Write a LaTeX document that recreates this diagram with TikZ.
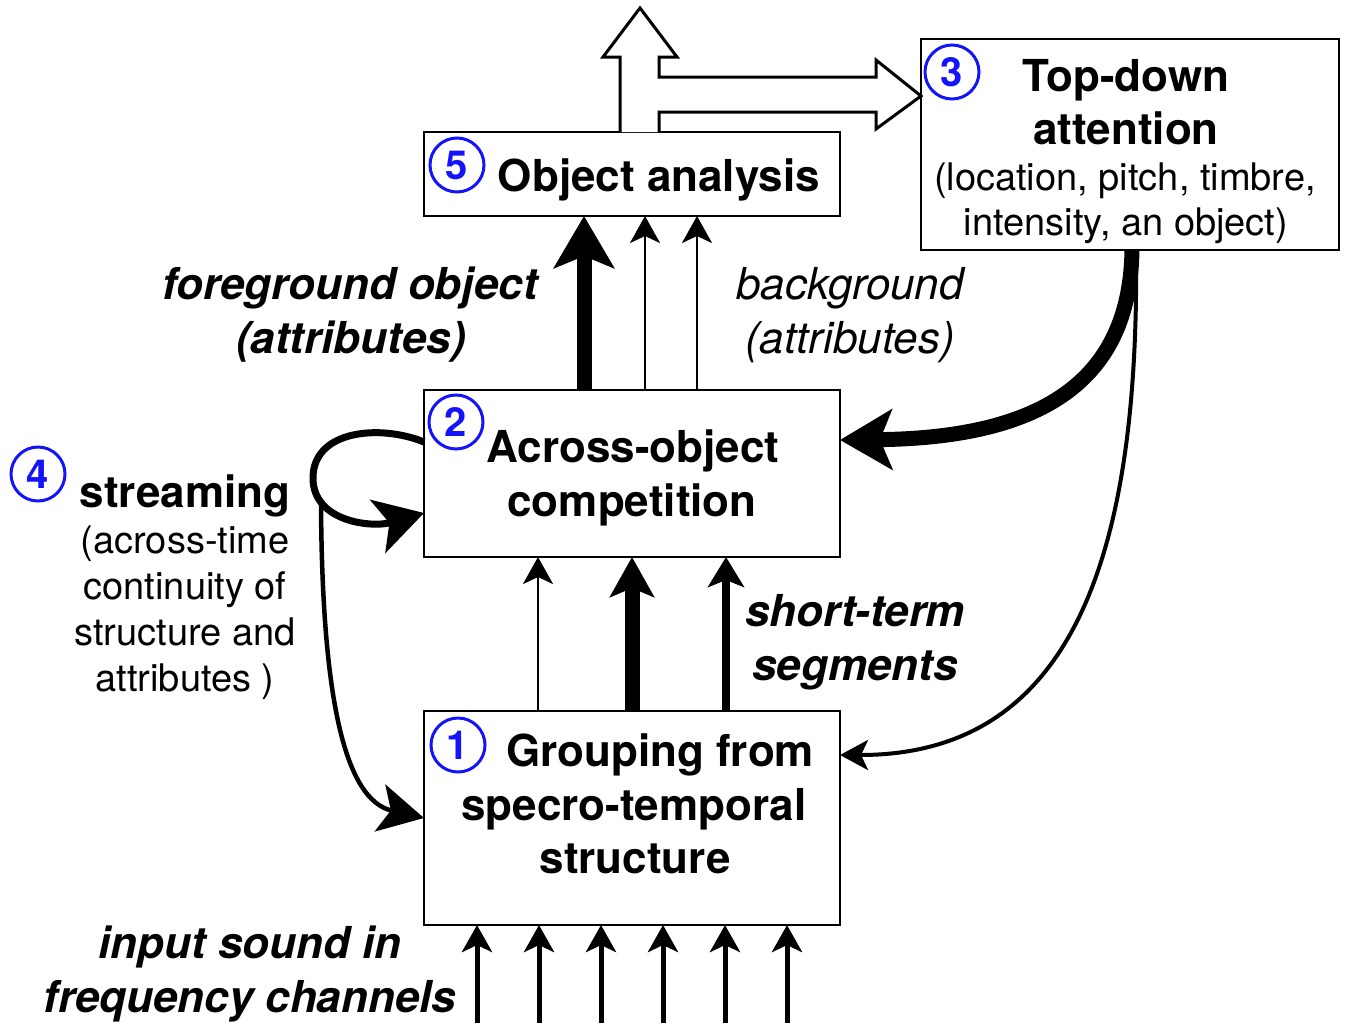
\documentclass[tikz,border=0pt]{standalone}
\usepackage{fontspec}
\setmainfont{TeX Gyre Heros}
\usetikzlibrary{arrows.meta,calc}
\definecolor{numblue}{RGB}{20,20,250}
\begin{document}
\begin{tikzpicture}[x=1pt,y=-1pt,
  box/.style={draw, line width=2.5pt, inner sep=0pt, outer sep=0pt, fill=white},
  num/.style={circle, draw=numblue, text=numblue, line width=3pt, inner sep=0pt,
    minimum size=54pt, font=\fontsize{40}{40}\selectfont\bfseries},
  tb/.style={inner sep=0pt, anchor=base, font=\fontsize{44}{54}\selectfont\bfseries},
  tbi/.style={inner sep=0pt, anchor=base, font=\fontsize{44}{54}\selectfont\bfseries\itshape},
  ti/.style={inner sep=0pt, anchor=base, font=\fontsize{44}{54}\selectfont\itshape},
  tr/.style={inner sep=0pt, anchor=base, font=\fontsize{38}{46}\selectfont},
  thinarrow/.style={line width=2.5pt, -{Stealth[length=27pt,width=30pt,inset=7pt]}},
  medarrow/.style={line width=8pt, -{Stealth[length=30pt,width=36pt,inset=7pt]}},
  heavyarrow/.style={line width=15pt, -{Stealth[length=40pt,width=44pt,inset=9pt]}},
  hugearrow/.style={line width=15pt, -{Stealth[length=52pt,width=60pt,inset=12pt]}},
  inarrow/.style={line width=5pt, -{Stealth[length=27pt,width=30pt,inset=7pt]}},
  loopline/.style={line width=7pt, -{Stealth[length=48pt,width=55pt,inset=12pt]}},
  streamline/.style={line width=4.5pt, -{Stealth[length=45pt,width=48pt,inset=11pt]}},
  fineline/.style={line width=4pt, -{Stealth[length=28pt,width=30pt,inset=7pt]}},
]
\useasboundingbox (0,0) rectangle (1346,1023);

% ---- boxes ----
\node[box, minimum width=416pt, minimum height=84pt]  (b5) at (632,174) {};
\node[box, minimum width=418pt, minimum height=211pt] (b3) at (1130,144.5) {};
\node[box, minimum width=416pt, minimum height=167pt] (b2) at (632,473.5) {};
\node[box, minimum width=416pt, minimum height=214pt] (b1) at (632,818) {};

% ---- box texts ----
\node[tb] (t5)  at (659,191) {Object analysis};
\node[tb] (t3a) at (1126,91)  {Top-down};
\node[tb] (t3b) at (1126,144) {attention};
\node[tr] (t3c) at (1125,190) {(location, pitch, timbre,};
\node[tr] (t3d) at (1126,235) {intensity, an object)};
\node[tb] (t2a) at (633,462) {Across-object};
\node[tb] (t2b) at (632,516) {competition};
\node[tb] (t1a) at (660,766) {Grouping from};
\node[tb] (t1b) at (634,820) {specro-temporal};
\node[tb] (t1c) at (635,873) {structure};

% ---- numbers ----
\node[num] (n5) at (457,165) {5};
\node[num] (n3) at (952,72)  {3};
\node[num] (n2) at (456,422) {2};
\node[num] (n4) at (38,474)  {4};
\node[num] (n1) at (458,745) {1};

% ---- side labels ----
\node[tbi] (fg1) at (350,299) {foreground object};
\node[tbi] (fg2) at (351,353) {(attributes)};
\node[ti]  (bg1) at (850,299) {background};
\node[ti]  (bg2) at (850,353) {(attributes)};
\node[tb]  (st0) at (185,507) {streaming};
\node[tr]  (st1) at (185,553) {(across-time};
\node[tr]  (st2) at (185,599) {continuity of};
\node[tr]  (st3) at (185,645) {structure and};
\node[tr]  (st4) at (185,691) {attributes )};
\node[tbi] (sh1) at (855,626) {short-term};
\node[tbi] (sh2) at (855,680) {segments};
\node[tbi] (in1) at (250,958) {input sound in};
\node[tbi] (in2) at (250,1012) {frequency channels};

% ---- Object analysis output: hollow split arrow ----
\draw[line width=3pt, line join=miter, fill=white]
  ($(b5.north west)+(196,0)$) -- (620,57) -- (603,57) -- (640,8) -- (677,57)
  -- (659,57) -- (659,77) -- (876,77) -- (876,60) -- ($(b3.north west)+(0,57)$)
  -- (876,129) -- (876,112) -- (659,112) -- ($(b5.north west)+(235,0)$);

% ---- competition to object analysis ----
\draw[hugearrow] ($(b2.north west)+(160,0)$) -- ($(b5.south west)+(160,0)$);
\draw[thinarrow] ($(b2.north west)+(221,0)$) -- ($(b5.south west)+(221,0)$);
\draw[thinarrow] ($(b2.north west)+(273,0)$) -- ($(b5.south west)+(273,0)$);

% ---- grouping to competition ----
\draw[thinarrow]  ($(b1.north west)+(114,0)$) -- ($(b2.south west)+(114,0)$);
\draw[heavyarrow] ($(b1.north west)+(208,0)$) -- ($(b2.south west)+(208,0)$);
\draw[medarrow]   ($(b1.north west)+(302,0)$) -- ($(b2.south west)+(302,0)$);

% ---- input channels ----
\foreach \x [count=\i] in {477,539,601,663,725,787} {
  \coordinate (ch\i) at (\x,1023);
  \draw[inarrow] (ch\i) -- (b1.south -| ch\i);
}

% ---- top-down attention feedback ----
\draw[hugearrow] ($(b3.south west)+(211,0)$) .. controls (1130,375) and (1050,438)
  .. ($(b2.north east)+(0,50)$);
\draw[fineline]  ($(b3.south west)+(215,0)$) .. controls (1140,580) and (1060,755)
  .. ($(b1.north east)+(0,44)$);

% ---- streaming loop and its link down to grouping ----
\draw[loopline] ($(b2.north west)+(0,52)$) .. controls (380,424) and (313,430) .. (313,478)
  .. controls (313,522) and (372,528) .. ($(b2.north west)+(0,123)$);
\coordinate (loopfoot) at (321,503);
\draw[streamline] (loopfoot) .. controls (322,700) and (345,800) .. (b1.west);
\end{tikzpicture}
\end{document}
